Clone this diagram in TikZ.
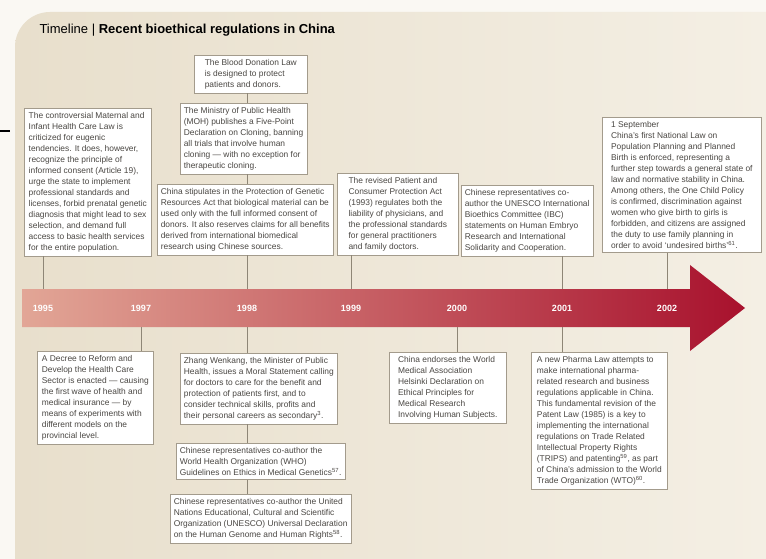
\documentclass[tikz,border=0pt]{standalone}
\usepackage{fontspec}
\setmainfont{Liberation Sans}

\definecolor{paper}{HTML}{E8DFCC}
\definecolor{paperlight}{HTML}{F4EFE4}
\definecolor{outside}{HTML}{FAF8F3}
\definecolor{boxline}{HTML}{A39B8C}
\definecolor{boxtext}{HTML}{4A4743}
\definecolor{linkline}{HTML}{8E8676}
\definecolor{arrowleft}{HTML}{E2A696}
\definecolor{arrowmid}{HTML}{C96B5C}
\definecolor{arrowright}{HTML}{A8112D}

\newcommand\boxfont{\fontsize{8.4bp}{11bp}\selectfont}
\newcommand\yearfont{\fontsize{9bp}{10bp}\selectfont\bfseries}

\tikzset{
  event/.style={draw=boxline, fill=white, line width=0.6bp, anchor=north west,
    inner xsep=3.5bp, inner ysep=4bp, align=left, font=\boxfont, text=boxtext,
    minimum width=#1bp},
  year/.style={text=white, font=\yearfont},
  link/.style={draw=linkline, line width=0.8bp}
}

\begin{document}
\begin{tikzpicture}[x=1bp, y=-1bp]
\useasboundingbox (0,0) rectangle (766,559);
\fill[outside] (0,0) rectangle (766,559);
% paper
\shade[left color=paper, right color=paperlight]
  (15,559) [rounded corners=35bp] -- (15,12) [sharp corners] -- (766,12) -- (766,559) -- cycle;
\draw[line width=2.5bp] (0,131) -- (10,131);

\node[anchor=west, text=black, font=\fontsize{13bp}{15bp}\selectfont] (title) at (36,30)
  {Timeline | \textbf{Recent bioethical regulations in China}};

% timeline arrow
\shade[left color=arrowleft, middle color=arrowmid, right color=arrowright]
  (22,289) -- (690,289) -- (690,265) -- (745,308) -- (690,351) -- (690,327) -- (22,327) -- cycle;
\coordinate (bandtop) at (0,289);
\coordinate (bandbot) at (0,327);

\node[year] (y1995) at (43,308) {1995};
\node[year] (y1997) at (141,308) {1997};
\node[year] (y1998) at (247,308) {1998};
\node[year] (y1999) at (351,308) {1999};
\node[year] (y2000) at (457,308) {2000};
\node[year] (y2001) at (562,308) {2001};
\node[year] (y2002) at (667,308) {2002};

% above the arrow
\node[event=127] (b1995) at (24,108) {The controversial Maternal and\\
Infant Health Care Law is\\
criticized for eugenic\\
tendencies. It does, however,\\
recognize the principle of\\
informed consent (Article 19),\\
urge the state to implement\\
professional standards and\\
licenses, forbid prenatal genetic\\
diagnosis that might lead to sex\\
selection, and demand full\\
access to basic health services\\
for the entire population.};

\node[event=113] (bblood) at (194,55) {The Blood Donation Law\\
is designed to protect\\
patients and donors.};

\node[event=126] (bmoh) at (180,103) {The Ministry of Public Health\\
(MOH) publishes a Five-Point\\
Declaration on Cloning, banning\\
all trials that involve human\\
cloning — with no exception for\\
therapeutic cloning.};

\node[event=174] (bgenetic) at (157,184) {China stipulates in the Protection of Genetic\\
Resources Act that biological material can be\\
used only with the full informed consent of\\
donors. It also reserves claims for all benefits\\
derived from international biomedical\\
research using Chinese sources.};

\node[event=121] (bpatient) at (337,173) {The revised Patient and\\
Consumer Protection Act\\
(1993) regulates both the\\
liability of physicians, and\\
the professional standards\\
for general practitioners\\
and family doctors.};

\node[event=124] (bibc) at (461,185) {Chinese representatives co-\\
author the UNESCO International\\
Bioethics Committee (IBC)\\
statements on Human Embryo\\
Research and International\\
Solidarity and Cooperation.};

\node[event=159] (b2002) at (602,117) {1 September\\
China's first National Law on\\
Population Planning and Planned\\
Birth is enforced, representing a\\
further step towards a general state of\\
law and normative stability in China.\\
Among others, the One Child Policy\\
is confirmed, discrimination against\\
women who give birth to girls is\\
forbidden, and citizens are assigned\\
the duty to use family planning in\\
order to avoid `undesired births'\textsuperscript{61}.};

% below the arrow
\node[event=116] (b1997) at (37,351) {A Decree to Reform and\\
Develop the Health Care\\
Sector is enacted — causing\\
the first wave of health and\\
medical insurance — by\\
means of experiments with\\
different models on the\\
provincial level.};

\node[event=157] (bzhang) at (180,353) {Zhang Wenkang, the Minister of Public\\
Health, issues a Moral Statement calling\\
for doctors to care for the benefit and\\
protection of patients first, and to\\
consider technical skills, profits and\\
their personal careers as secondary\textsuperscript{3}.};

\node[event=161] (bwho) at (176,443) {Chinese representatives co-author the\\
World Health Organization (WHO)\\
Guidelines on Ethics in Medical Genetics\textsuperscript{57}.};

\node[event=175] (bunesco) at (170,494) {Chinese representatives co-author the United\\
Nations Educational, Cultural and Scientific\\
Organization (UNESCO) Universal Declaration\\
on the Human Genome and Human Rights\textsuperscript{58}.};

\node[event=117] (bhelsinki) at (389,352) {China endorses the World\\
Medical Association\\
Helsinki Declaration on\\
Ethical Principles for\\
Medical Research\\
Involving Human Subjects.};

\node[event=136] (bpharma) at (531,352) {A new Pharma Law attempts to\\
make international pharma-\\
related research and business\\
regulations applicable in China.\\
This fundamental revision of the\\
Patent Law (1985) is a key to\\
implementing the international\\
regulations on Trade Related\\
Intellectual Property Rights\\
(TRIPS) and patenting\textsuperscript{59}, as part\\
of China's admission to the World\\
Trade Organization (WTO)\textsuperscript{60}.};

% connectors
\draw[link] (b1995.south -| y1995) -- (y1995 |- bandtop);
\draw[link] (bblood.south -| y1998) -- (bmoh.north -| y1998);
\draw[link] (bmoh.south -| y1998) -- (bgenetic.north -| y1998);
\draw[link] (bgenetic.south -| y1998) -- (y1998 |- bandtop);
\draw[link] (bpatient.south -| y1999) -- (y1999 |- bandtop);
\draw[link] (bibc.south -| y2001) -- (y2001 |- bandtop);
\draw[link] (b2002.south -| y2002) -- (y2002 |- bandtop);
\draw[link] (y1997 |- bandbot) -- (b1997.north -| y1997);
\draw[link] (y1998 |- bandbot) -- (bzhang.north -| y1998);
\draw[link] (bzhang.south -| y1998) -- (bwho.north -| y1998);
\draw[link] (bwho.south -| y1998) -- (bunesco.north -| y1998);
\draw[link] (y2000 |- bandbot) -- (bhelsinki.north -| y2000);
\draw[link] (y2001 |- bandbot) -- (bpharma.north -| y2001);
\end{tikzpicture}
\end{document}
